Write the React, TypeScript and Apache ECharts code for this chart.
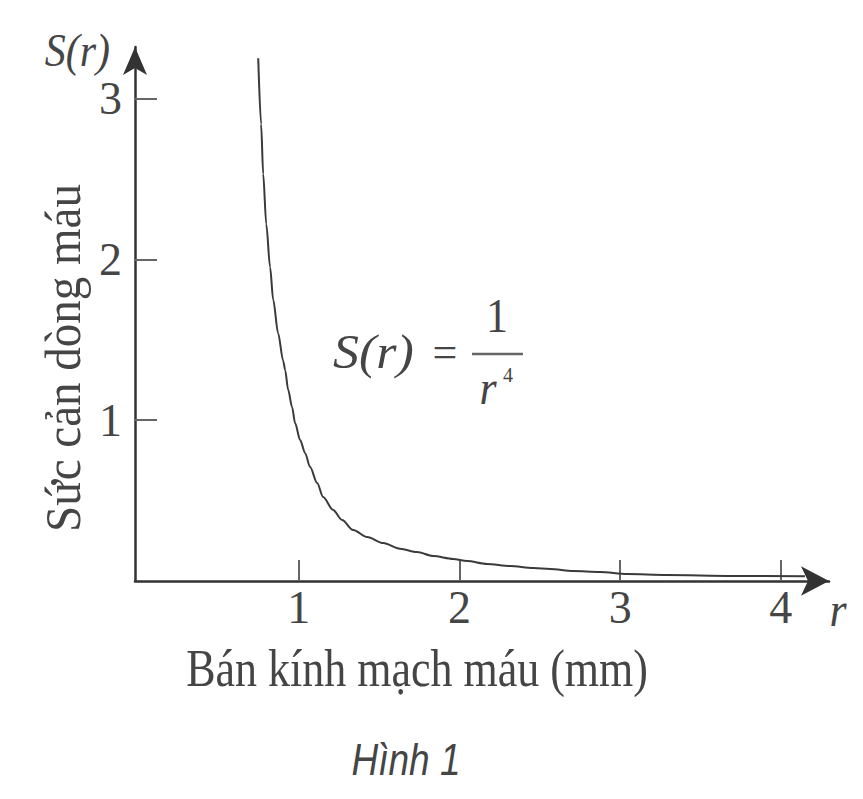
import React, { useEffect, useRef } from "react";
import * as echarts from "echarts";

// Radius r (mm) and resistance S(r)
const rValues = [0.747, 0.765, 0.778, 0.797, 0.821, 0.84, 0.871, 0.902, 0.915, 0.933, 0.958, 0.977, 1.008, 1.039, 1.07, 1.114, 1.151, 1.213, 1.269, 1.338, 1.425, 1.525, 1.63, 1.736, 1.836, 1.96, 2.047, 2.17, 2.315, 2.458, 2.564, 2.707, 2.875, 3.043, 3.29, 3.7, 4.15];
const sValues = [3.25, 2.84, 2.53, 2.22, 1.95, 1.75, 1.54, 1.37, 1.31, 1.19, 1.08, 0.98, 0.876, 0.795, 0.708, 0.609, 0.522, 0.441, 0.379, 0.317, 0.273, 0.236, 0.2, 0.18, 0.155, 0.137, 0.124, 0.106, 0.093, 0.081, 0.075, 0.062, 0.056, 0.043, 0.037, 0.031, 0.029];
const xTicks = [1, 2, 3, 4];
const yTicks = [1, 2, 3];

const xAxisTitle = "Bán kính mạch máu (mm)";
const yAxisTitle = "Sức cản dòng máu";
const figureCaption = "Hình 1";

const SERIF = "'Liberation Serif', 'DejaVu Serif', serif";
const SANS = "'Liberation Sans', Arial, sans-serif";

export default function App() {
  const ref = useRef<HTMLDivElement>(null);
  useEffect(() => {
    if (!ref.current) return;
    const chart = echarts.init(ref.current, null, { renderer: "svg" });
    const lineColor = "#333";
    const textColor = "#454545";
    const option = {
      animation: false,
      backgroundColor: "#fff",
      grid: { left: 135, top: 47, width: 694, height: 534, containLabel: false },
      xAxis: {
        type: "value",
        min: -0.02,
        max: 4.3,
        splitLine: { show: false },
        axisLine: {
          show: true,
          onZero: false,
          symbol: ["none", "arrow"],
          symbolSize: [22, 28],
          lineStyle: { color: lineColor, width: 2.5 },
        },
        axisTick: { show: true, inside: true, length: 21, customValues: xTicks, lineStyle: { color: "#666", width: 2 } },
        axisLabel: { customValues: xTicks, margin: 3, fontFamily: SERIF, fontSize: 46, color: textColor },
      },
      yAxis: {
        type: "value",
        min: 0,
        max: 3.32,
        splitLine: { show: false },
        axisLine: {
          show: true,
          onZero: false,
          symbol: ["none", "arrow"],
          symbolSize: [18, 28],
          lineStyle: { color: lineColor, width: 2.5 },
        },
        axisTick: { show: true, inside: true, length: 22, customValues: yTicks, lineStyle: { color: "#666", width: 2 } },
        axisLabel: { customValues: yTicks, margin: 13, fontFamily: SERIF, fontSize: 46, color: textColor },
      },
      series: [
        {
          type: "line",
          data: rValues.map((r, i) => [r, sValues[i]]),
          smooth: 0.3,
          smoothMonotone: "x",
          showSymbol: false,
          symbol: "none",
          lineStyle: { color: "#3a3a3a", width: 2 },
        },
      ],
      graphic: [
        { type: "text", x: 110, y: 51, scaleY: 1.1, style: { text: "S(r)", fontFamily: SERIF, fontStyle: "italic", fontSize: 42, fill: textColor, textAlign: "right", textVerticalAlign: "middle" } },
        { type: "text", x: 838, y: 610, scaleY: 1.1, style: { text: "r", fontFamily: SERIF, fontStyle: "italic", fontSize: 44, fill: textColor, textAlign: "center", textVerticalAlign: "middle" } },
        { type: "text", x: 63, y: 358, rotation: Math.PI / 2, scaleY: 1.1, style: { text: yAxisTitle, fontFamily: SERIF, fontSize: 47, fill: textColor, textAlign: "center", textVerticalAlign: "middle" } },
        { type: "text", x: 417, y: 669, scaleY: 1.2, style: { text: xAxisTitle, fontFamily: SERIF, fontSize: 44, fill: textColor, textAlign: "center", textVerticalAlign: "middle" } },
        { type: "text", x: 406, y: 760, scaleY: 1.2, style: { text: figureCaption, fontFamily: SANS, fontStyle: "italic", fontSize: 37, fill: textColor, textAlign: "center", textVerticalAlign: "middle" } },
        // formula S(r) = 1 / r^4
        { type: "text", x: 333, y: 352, scaleX: 1.18, scaleY: 1.1, style: { text: "S(r)", fontFamily: SERIF, fontStyle: "italic", fontSize: 44, fill: textColor, textAlign: "left", textVerticalAlign: "middle" } },
        { type: "text", x: 445, y: 352, style: { text: "=", fontFamily: SERIF, fontSize: 44, fill: textColor, textAlign: "center", textVerticalAlign: "middle" } },
        { type: "line", shape: { x1: 472, y1: 354, x2: 523, y2: 354 }, style: { stroke: "#666", lineWidth: 2.5 } },
        { type: "text", x: 497, y: 316, scaleY: 1.1, style: { text: "1", fontFamily: SERIF, fontSize: 44, fill: textColor, textAlign: "center", textVerticalAlign: "middle" } },
        { type: "text", x: 488, y: 388, scaleY: 1.1, style: { text: "r", fontFamily: SERIF, fontStyle: "italic", fontSize: 44, fill: textColor, textAlign: "center", textVerticalAlign: "middle" } },
        { type: "text", x: 508, y: 375, style: { text: "4", fontFamily: SERIF, fontSize: 20, fill: textColor, textAlign: "center", textVerticalAlign: "middle" } },
      ],
    };
    chart.setOption(option as any);
    return () => chart.dispose();
  }, []);
  return <div ref={ref} style={{ position: "absolute", left: 0, top: 0, width: 863, height: 799 }} />;
}
